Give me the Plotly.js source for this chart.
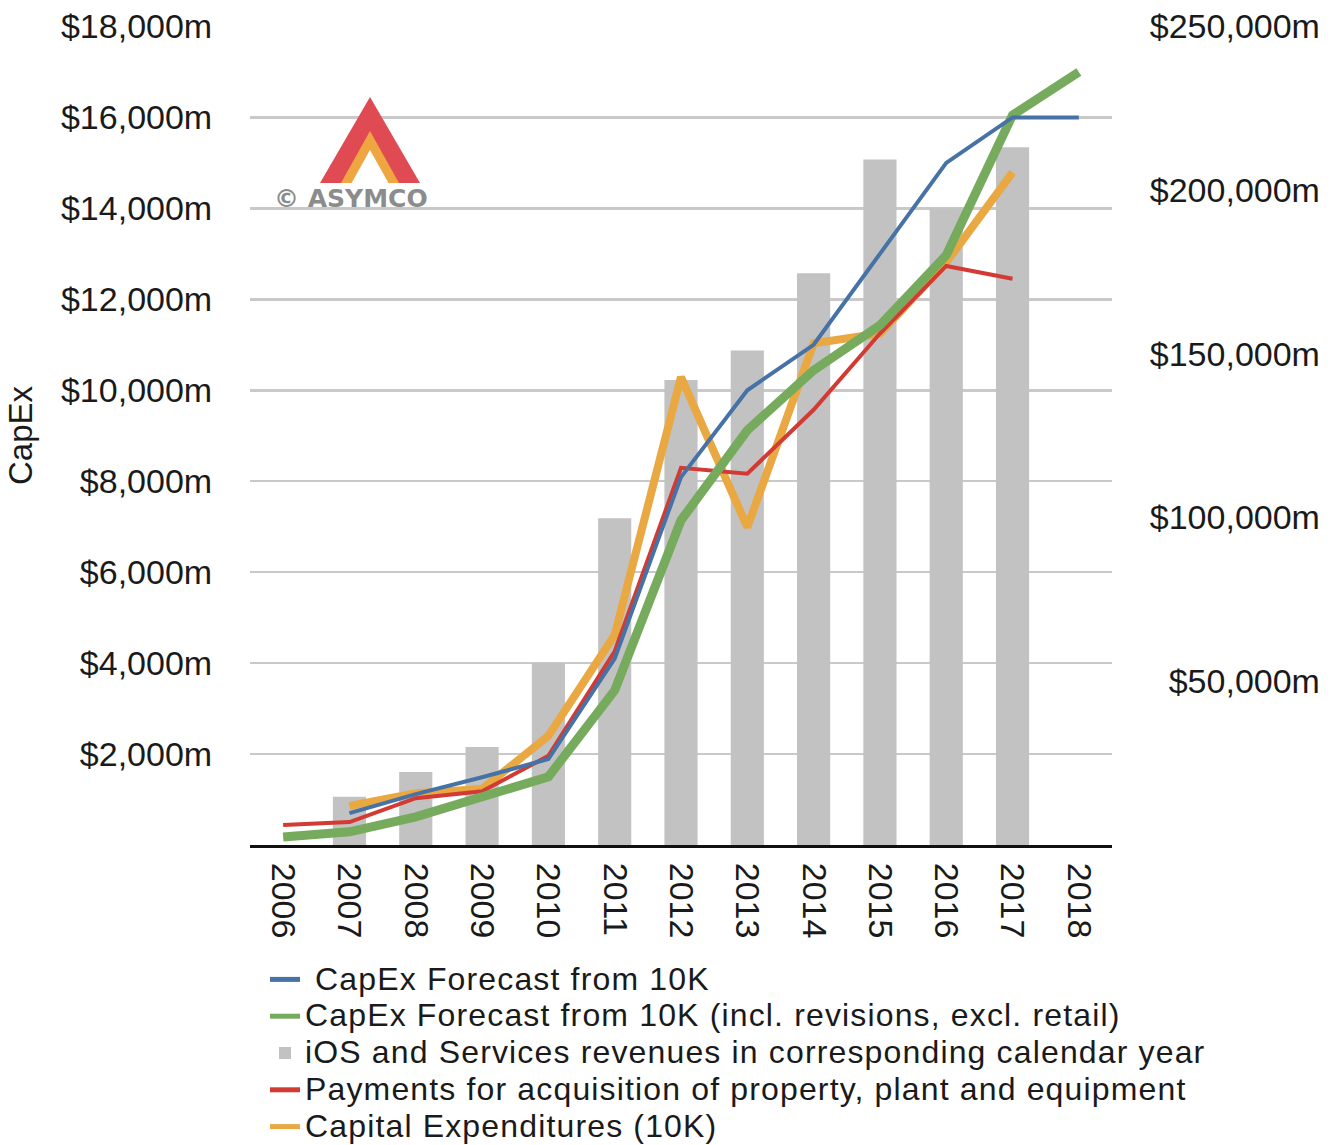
<!DOCTYPE html>
<html>
<head>
<meta charset="utf-8">
<script src="https://cdn.plot.ly/plotly-3.0.1.min.js"></script>
<style>html,body{margin:0;padding:0;background:#fff;}#chart{width:1335px;height:1145px;}</style>
</head>
<body>
<div id="chart"></div>
<script>
// ---- data ----
const years = ["2006","2007","2008","2009","2010","2011","2012","2013","2014","2015","2016","2017","2018"];
const capexForecast = [null, 700, 1120, 1490, 1890, 4100, 8090, 10000, 11000, 13000, 15000, 16000, 16000];
const capexForecastRevised = [175, 290, 620, 1080, 1500, 3400, 7140, 9120, 10440, 11430, 12970, 16050, 17000];
const iosServicesRevenue = [null, 14700, 22300, 29900, 55600, 99800, 142000, 151000, 174600, 209400, 194500, 213100, null];
const ppePayments = [440, 505, 1030, 1180, 1960, 4260, 8295, 8165, 9571, 11247, 12734, 12451, null];
const capitalExpenditures = [null, 860, 1140, 1230, 2400, 4620, 10290, 6990, 11030, 11250, 12810, 14790, null];

const leftTicks = [2000,4000,6000,8000,10000,12000,14000,16000,18000];
const leftTickText = ["$2,000m","$4,000m","$6,000m","$8,000m","$10,000m","$12,000m","$14,000m","$16,000m","$18,000m"];
const rightTicks = [50000,100000,150000,200000,250000];
const rightTickText = ["\u2007$50,000m","$100,000m","$150,000m","$200,000m","$250,000m"];

const seriesNames = {
  forecast: " CapEx Forecast from 10K",
  revised: "CapEx Forecast from 10K (incl. revisions, excl. retail)",
  revenue: "iOS and Services revenues in corresponding calendar year",
  ppe: "Payments for acquisition of property, plant and equipment",
  capex: "Capital Expenditures (10K)"
};

// ---- layout geometry ----
const W = 1335, H = 1145;
const M = {l: 250, r: 15, t: 26, b: 300};
const PW = W - M.l - M.r, PH = H - M.t - M.b;
const px = x => (x - M.l) / PW;
const py = y => (M.t + PH - y) / PH;
const FONT = "Liberation Sans, Arial, Helvetica, sans-serif";
const LEFT_TOP = 18010;
const RIGHT_TOP = 250000 * LEFT_TOP / 18000;
const legendLabel = s => `<span style="font-size:32px;letter-spacing:1.15px">${s}</span>`;

const traces = [
  {type: "bar", name: legendLabel(seriesNames.revenue),
   x: years, y: iosServicesRevenue, yaxis: "y", width: 0.5,
   marker: {color: "#c2c2c2"}, legendrank: 3, hoverinfo: "skip"},
  {type: "scatter", mode: "lines", name: legendLabel(seriesNames.capex),
   x: years, y: capitalExpenditures, yaxis: "y2", line: {color: "#e9a842", width: 8},
   legendrank: 5, hoverinfo: "skip"},
  {type: "scatter", mode: "lines", name: legendLabel(seriesNames.ppe),
   x: years, y: ppePayments, yaxis: "y2", line: {color: "#d23a33", width: 4},
   legendrank: 4, hoverinfo: "skip"},
  {type: "scatter", mode: "lines", name: legendLabel(seriesNames.revised),
   x: years, y: capexForecastRevised, yaxis: "y2", line: {color: "#76aa5c", width: 9},
   legendrank: 2, hoverinfo: "skip"},
  {type: "scatter", mode: "lines", name: legendLabel(seriesNames.forecast),
   x: years, y: capexForecast, yaxis: "y2", line: {color: "#4672a6", width: 4},
   legendrank: 1, hoverinfo: "skip"}
];

const layout = {
  width: W, height: H,
  margin: M,
  paper_bgcolor: "#fff", plot_bgcolor: "#fff",
  font: {family: FONT, size: 34, color: "#1a1a1a"},
  showlegend: true,
  legend: {xref: "paper", yref: "container", x: px(265), y: 1 - 956 / H,
           xanchor: "left", yanchor: "top", itemsizing: "constant",
           font: {size: 26, color: "#1a1a1a"}, traceorder: "normal",
           itemwidth: 30, tracegroupgap: 0, bgcolor: "rgba(0,0,0,0)"},
  xaxis: {domain: [0, (1112 - M.l) / PW], type: "category", range: [-0.5, 12.5],
          tickangle: 90, tickfont: {size: 34}, showgrid: false, zeroline: false,
          showline: true, linecolor: "#111", linewidth: 3, ticks: "",
          ticklabelstandoff: 8},
  // right axis: iOS and Services revenues (bars, drawn underneath)
  yaxis: {range: [0, RIGHT_TOP], side: "right", anchor: "x",
          tickvals: rightTicks, ticktext: rightTickText, tickfont: {size: 34},
          showgrid: false, zeroline: false, showline: false,
          ticks: "outside", ticklen: 30, tickcolor: "rgba(0,0,0,0)"},
  // left axis: CapEx (lines, drawn on top)
  yaxis2: {range: [0, LEFT_TOP], overlaying: "y", side: "left", anchor: "x",
           tickvals: leftTicks, ticktext: leftTickText, tickfont: {size: 34},
           showgrid: true, gridcolor: "#c9c9c9", gridwidth: 2.5,
           zeroline: false, showline: false, ticks: "outside", ticklen: 30,
           tickcolor: "rgba(0,0,0,0)",
           title: {text: "CapEx", font: {size: 33}, standoff: 18}},
  shapes: [
    {type: "path", xref: "paper", yref: "paper", layer: "above", line: {width: 0},
     fillcolor: "#e04a52",
     path: `M ${px(370)} ${py(97)} L ${px(420)} ${py(183)} L ${px(320)} ${py(183)} Z`},
    {type: "path", xref: "paper", yref: "paper", layer: "above", line: {width: 0},
     fillcolor: "#f0a640",
     path: `M ${px(370)} ${py(131)} L ${px(399)} ${py(183)} L ${px(341)} ${py(183)} Z`},
    {type: "path", xref: "paper", yref: "paper", layer: "above", line: {width: 0},
     fillcolor: "#ffffff",
     path: `M ${px(370)} ${py(150)} L ${px(389)} ${py(184)} L ${px(351)} ${py(184)} Z`}
  ],
  annotations: [
    {xref: "paper", yref: "paper", x: px(351), y: py(198), xanchor: "center", yanchor: "middle",
     text: "<b>© ASYMCO</b>", showarrow: false,
     font: {family: "DejaVu Sans, sans-serif", size: 25, color: "#8c8c8c"}}
  ]
};

Plotly.newPlot("chart", traces, layout, {staticPlot: true, displayModeBar: false});
</script>
</body>
</html>
